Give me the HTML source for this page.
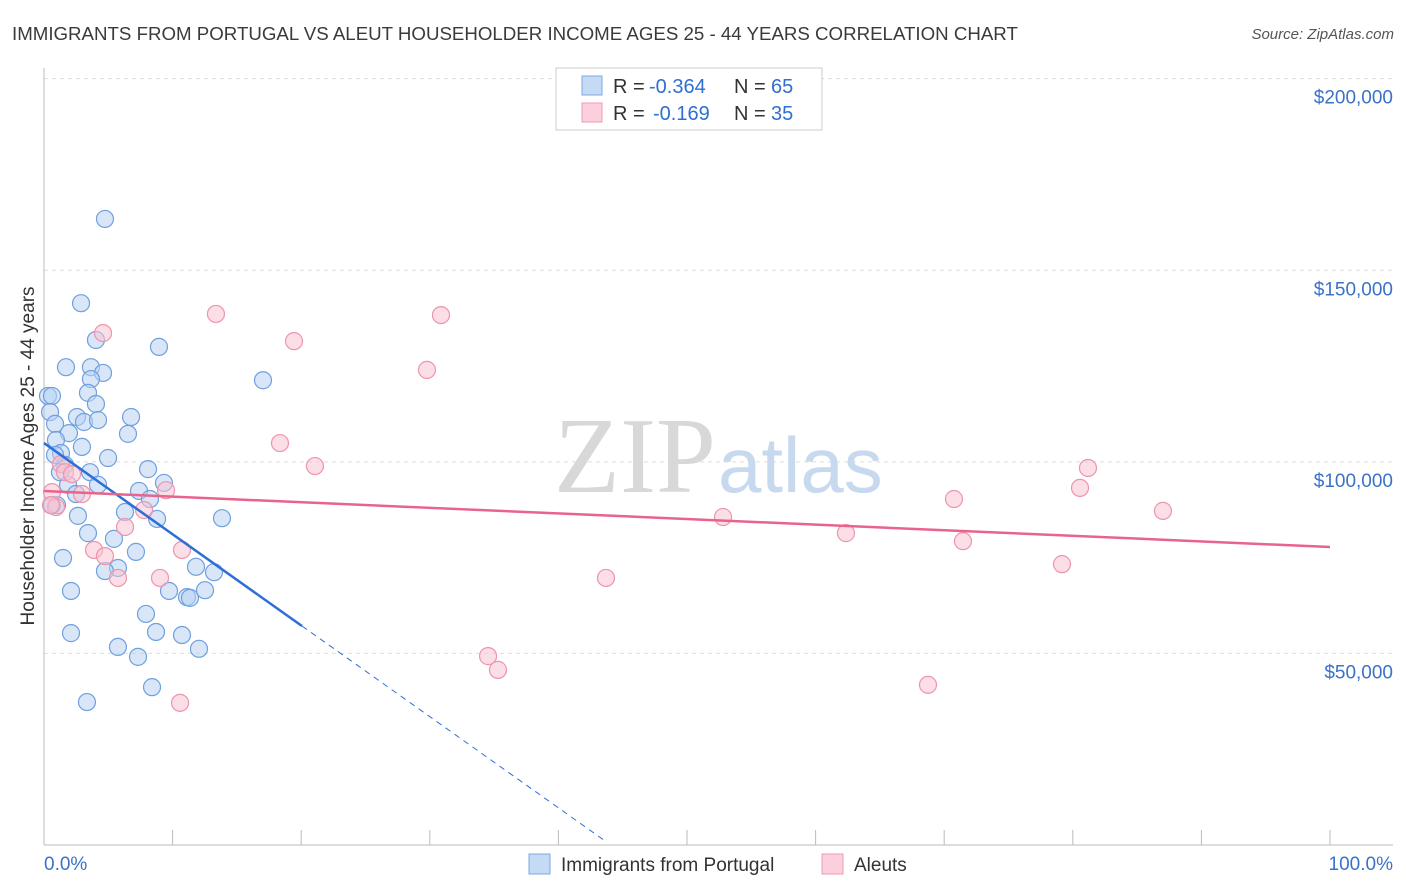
<!DOCTYPE html>
<html><head><meta charset="utf-8"><style>
body{margin:0;background:#fff;font-family:"Liberation Sans",sans-serif}
svg{display:block}
</style></head><body>
<svg id="c" width="1406" height="892">
<text x="12" y="40" font-size="18.7" fill="#3a3a3a">IMMIGRANTS FROM PORTUGAL VS ALEUT HOUSEHOLDER INCOME AGES 25 - 44 YEARS CORRELATION CHART</text>
<text x="1394" y="39" font-size="15" fill="#555" font-style="italic" text-anchor="end">Source: ZipAtlas.com</text>
<g id="grid"></g>
<text x="716" y="492" font-size="108" fill="#d8d8d8" text-anchor="end" font-family="Liberation Serif,serif">ZIP</text>
<text x="718" y="492" font-size="78" fill="#c7d9ee">atlas</text>
<g id="marks"></g>
<text transform="translate(34,456) rotate(-90)" font-size="19" fill="#333" text-anchor="middle">Householder Income Ages 25 - 44 years</text>
<text x="44" y="870" font-size="19" fill="#3a72c8">0.0%</text>
<text x="1393" y="870" font-size="19" fill="#3a72c8" text-anchor="end">100.0%</text>
<g>
<rect x="556" y="68" width="266" height="62" fill="#fff" stroke="#ccc"/>
<rect x="582" y="76" width="20" height="19" fill="#c5dbf5" stroke="#7aa8e0"/>
<rect x="582" y="103" width="20" height="19" fill="#fbd0dc" stroke="#f09ab3"/>
<text x="613" y="93" font-size="20" fill="#333">R =</text>
<text x="649" y="93" font-size="20" fill="#2f6fd0">-0.364</text>
<text x="734" y="93" font-size="20" fill="#333">N =</text>
<text x="771" y="93" font-size="20" fill="#2f6fd0">65</text>
<text x="613" y="120" font-size="20" fill="#333">R =</text>
<text x="653" y="120" font-size="20" fill="#2f6fd0">-0.169</text>
<text x="734" y="120" font-size="20" fill="#333">N =</text>
<text x="771" y="120" font-size="20" fill="#2f6fd0">35</text>
</g>
<g>
<rect x="529" y="854" width="21" height="20" fill="#c5dbf5" stroke="#7aa8e0"/>
<text x="561" y="871" font-size="19" fill="#333">Immigrants from Portugal</text>
<rect x="822" y="854" width="21" height="20" fill="#fbd0dc" stroke="#f09ab3"/>
<text x="854" y="871" font-size="19" fill="#333">Aleuts</text>
</g>
</svg>
<script>
const blueX=[4.74,2.88,8.94,4.04,1.71,3.65,4.59,3.65,17.03,3.42,0.31,0.62,4.04,0.47,2.57,6.77,0.86,3.11,4.20,1.94,6.53,0.93,2.95,1.32,4.98,1.63,8.09,3.58,1.24,1.87,4.20,9.33,2.49,7.39,8.24,0.62,1.01,2.64,6.30,8.79,13.84,5.44,3.42,7.15,1.48,5.75,4.74,11.82,13.22,9.72,2.10,11.12,11.35,12.52,7.93,2.10,8.71,10.73,5.75,7.31,12.05,8.40,3.34,0.86];
const blueY=[163400,141400,130000,131800,124700,124700,123200,121600,121300,118000,117200,117200,115100,113000,111700,111700,109900,110400,110900,107500,107300,105700,103900,102300,101000,99200,98100,97300,97300,94000,94000,94500,91600,92400,90300,88700,88700,85900,86900,85100,85300,79900,81400,76500,74900,72300,71500,72600,71200,66300,66300,64700,64500,66500,60300,55300,55600,54800,51700,49100,51200,41200,37300,101800];
const pinkX=[4.59,13.37,19.44,30.87,29.78,18.35,21.07,1.32,1.63,2.18,2.95,9.49,0.62,0.93,7.78,6.30,3.89,4.74,5.75,9.02,10.73,43.70,52.80,62.36,70.76,71.46,81.18,80.56,79.16,87.01,68.74,34.53,35.30,10.58,0.54];
const pinkY=[133600,138600,131500,138300,124000,104900,98900,99400,97300,96800,91600,92600,92100,88200,87400,83000,77000,75400,69700,69700,77000,69700,85600,81400,90300,79300,98400,93200,73300,87200,41800,49300,45700,37100,88700];
const yTicks=[50000,100000,150000,200000];
const yTickLabels=["$50,000","$100,000","$150,000","$200,000"];
const blueIntercept=104900, blueSlope=-2380, blueSolidEnd=20.06, blueDashEnd=43.5;
const pinkIntercept=92380, pinkSlope=-146.1;
const sx=v=>44+v*12.86, sy=v=>845-v*0.0038316;
const NS="http://www.w3.org/2000/svg";
function mk(t,a,p){const e=document.createElementNS(NS,t);for(const k in a)e.setAttribute(k,a[k]);p.appendChild(e);return e;}
const g=document.getElementById('grid'), m=document.getElementById('marks');
yTicks.forEach((t,i)=>{
 const l=mk('line',{x1:44,x2:1393,y1:sy(t),y2:sy(t),stroke:'#ddd','stroke-dasharray':'4,4'},g);
 
 
 const tx=mk('text',{x:1393,y:sy(t)+25,'font-size':19,fill:'#3a72c8','text-anchor':'end'},g);
 tx.textContent=yTickLabels[i];
 
 
});
const ax=mk('line',{x1:44,x2:44,y1:68,y2:845,stroke:'#bbb'},g);


const bx=mk('line',{x1:44,x2:1393,y1:845,y2:845,stroke:'#bbb'},g);


for(let i=1;i<=10;i++){const t=mk('line',{x1:sx(i*10),x2:sx(i*10),y1:830,y2:845,stroke:'#bbb'},g);
 
 }
function dots(X,Y,fill,stroke,name){X.forEach((x,i)=>{const c=mk('circle',{cx:sx(x),cy:sy(Y[i]),r:8.5,fill:fill,'fill-opacity':0.55,stroke:stroke,'stroke-width':1.2},m);
 
 });}
dots(blueX,blueY,'#b8d2f2','#6fa0de','portugal-point');
dots(pinkX,pinkY,'#f9c3d2','#ee94ae','aleut-point');
let l=mk('line',{x1:sx(0),y1:sy(blueIntercept),x2:sx(blueSolidEnd),y2:sy(blueIntercept+blueSlope*blueSolidEnd),stroke:'#2d6fd6','stroke-width':2.5},m);


l=mk('line',{x1:sx(blueSolidEnd),y1:sy(blueIntercept+blueSlope*blueSolidEnd),x2:sx(blueDashEnd),y2:sy(blueIntercept+blueSlope*blueDashEnd),stroke:'#2d6fd6','stroke-width':1,'stroke-dasharray':'6,5'},m);


l=mk('line',{x1:sx(0),y1:sy(pinkIntercept),x2:sx(100),y2:sy(pinkIntercept+pinkSlope*100),stroke:'#e8648c','stroke-width':2.5},m);


</script>
</body></html>
